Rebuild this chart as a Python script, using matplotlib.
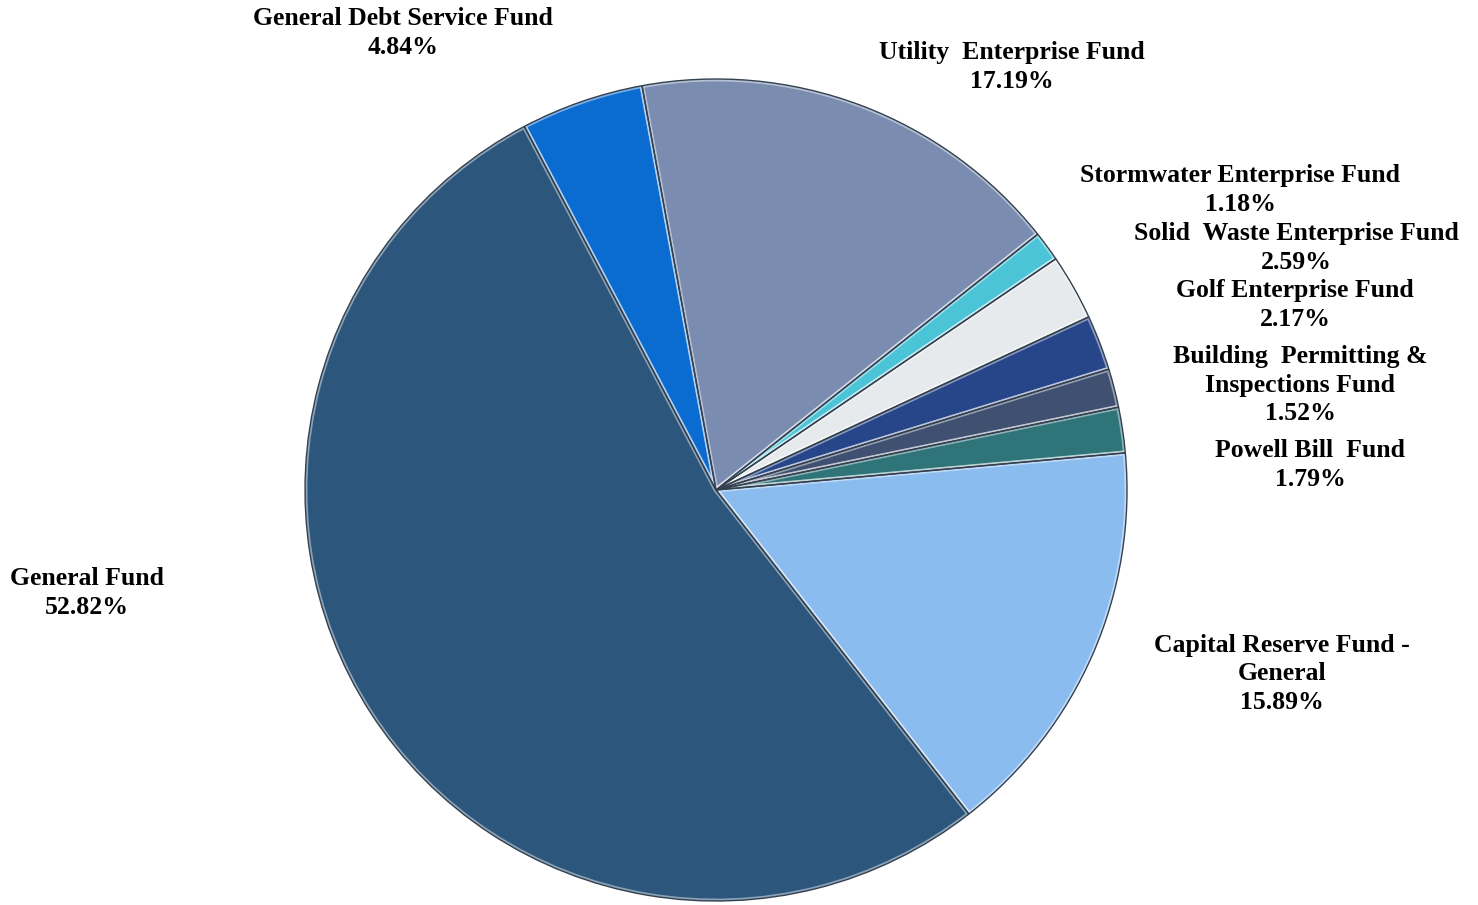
import matplotlib.pyplot as plt

# Fund shares, listed clockwise from the General Debt Service wedge
funds = ['General Debt Service Fund', 'Utility  Enterprise Fund',
         'Stormwater Enterprise Fund', 'Solid  Waste Enterprise Fund',
         'Golf Enterprise Fund', 'Building  Permitting &\nInspections Fund',
         'Powell Bill  Fund', 'Capital Reserve Fund -\nGeneral', 'General Fund']
shares = [4.84, 17.19, 1.18, 2.59, 2.17, 1.52, 1.79, 15.89, 52.82]

colors = ['#0a6bd0', '#7a8cb0', '#4cc4d8', '#e7eaed', '#27468a',
          '#3f5070', '#2f7479', '#8bbcf0', '#2c567c']

# label anchor points (figure pixels, centre of the text block)
label_pos = [(403, 33), (1012, 67), (1240, 190), (1296, 248), (1295, 305),
             (1300, 385), (1310, 465), (1282, 674), (87, 593)]

W, H = 1478, 905
fig = plt.figure(figsize=(W / 100, H / 100), dpi=100)
cx, cy, r = 716, 490, 411
ax = fig.add_axes([(cx - r) / W, (H - cy - r) / H, 2 * r / W, 2 * r / H])

# start angle puts the General Fund / Debt Service boundary at upper left
start = 117.8
ax.pie(shares, colors=colors, startangle=start, counterclock=False,
       wedgeprops=dict(edgecolor=(1, 1, 1, 0.45), linewidth=3.5))
outline, _ = ax.pie(shares, startangle=start, counterclock=False)
for w in outline:
    w.set_fill(False)
    w.set_edgecolor('#33404f')
    w.set_linewidth(1.0)
ax.set_aspect('equal')
ax.set_xlim(-1, 1)
ax.set_ylim(-1, 1)
ax.axis('off')

font = dict(family='Liberation Serif', weight='bold', size=18.5)
for name, val, (px, py) in zip(funds, shares, label_pos):
    text = f'{name}\n{val:.2f}%'
    fig.text(px / W, 1 - py / H, text, ha='center', va='center',
             linespacing=1.32, **font)

fig.savefig('out.png', dpi=100, facecolor='white')
